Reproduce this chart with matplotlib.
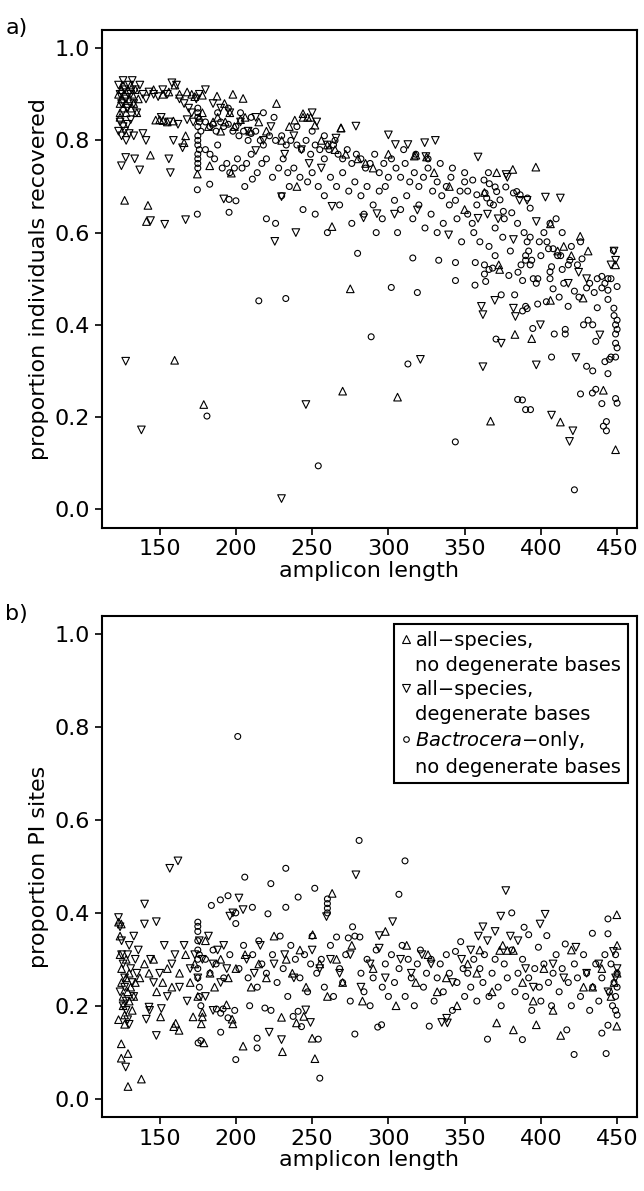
import numpy as np
import matplotlib
matplotlib.use("Agg")
import matplotlib.pyplot as plt
from matplotlib.lines import Line2D

# panel a: proportion of individuals recovered vs amplicon length
# (x, y) pairs
a_up = [
    (123, 0.90), (124, 0.88), (124, 0.86), (125, 0.91), (125, 0.89), (126, 0.87), (126, 0.92),
    (127, 0.90), (128, 0.88), (128, 0.86), (129, 0.91), (130, 0.89), (131, 0.87), (131, 0.92),
    (132, 0.90), (133, 0.88), (134, 0.91), (135, 0.86), (136, 0.89), (124, 0.85),
    (127, 0.67), (142.3, 0.659), (141.3, 0.624), (143.9, 0.768), (159.8, 0.323), (178.9, 0.227),
    (146, 0.91), (152, 0.90), (156, 0.905), (160, 0.92), (163, 0.90), (168, 0.905), (171, 0.90),
    (173, 0.895), (150, 0.845), (155, 0.84), (159, 0.842), (166, 0.795), (167, 0.81),
    (147.4, 0.844), (152.2, 0.843), (174.7, 0.727), (176, 0.85), (178, 0.86), (182, 0.83),
    (185, 0.84), (188, 0.85), (190, 0.82), (193, 0.84), (196, 0.86), (199, 0.83), (203, 0.845),
    (206, 0.85), (209, 0.82), (187.6, 0.896), (204.7, 0.891), (226.6, 0.88), (238.6, 0.844),
    (192.5, 0.88), (198, 0.90), (197, 0.729), (182.8, 0.745), (178, 0.898), (244, 0.85),
    (215, 0.84), (220, 0.82), (230, 0.80), (235, 0.83), (244, 0.858), (247, 0.85), (249, 0.85),
    (251.8, 0.833), (256, 0.80), (260, 0.79), (263, 0.613), (265, 0.78), (269, 0.827), (272, 0.77),
    (275, 0.478), (270, 0.256), (280, 0.76), (285, 0.75), (290, 0.74), (300, 0.77), (306, 0.243),
    (317, 0.766), (325, 0.764), (330, 0.73), (340, 0.70), (350, 0.65), (363, 0.687),
    (367, 0.191), (371, 0.73), (372.4, 0.53), (373, 0.52), (381.6, 0.737), (383, 0.379),
    (394, 0.37), (396.7, 0.742), (406.3, 0.619), (406.3, 0.453), (412.8, 0.189), (425.8, 0.592),
    (427.7, 0.458), (441, 0.258), (449, 0.53), (449, 0.129), (411, 0.56), (415, 0.57),
    (420, 0.55), (431, 0.56), (240, 0.70), (268.8, 0.827), (318, 0.768),
]
a_down = [
    (123, 0.92), (124, 0.90), (125, 0.88), (126, 0.93), (127, 0.91), (128, 0.89), (129, 0.87),
    (130, 0.92), (131, 0.90), (132, 0.93), (133, 0.88), (134, 0.91), (135, 0.86), (137, 0.92),
    (139, 0.90), (141, 0.89), (123, 0.82), (124, 0.84), (125, 0.81), (126, 0.83), (127, 0.82),
    (128, 0.80), (129, 0.835), (130, 0.815), (131, 0.845), (133, 0.81), (124.9, 0.745),
    (127.7, 0.763), (133.6, 0.76), (136.9, 0.736), (127.7, 0.321), (138, 0.172), (144, 0.626),
    (153.3, 0.618), (156, 0.76), (157, 0.73), (159, 0.80), (165, 0.784), (167, 0.628),
    (139, 0.815), (141, 0.80), (143, 0.905), (146, 0.90), (149, 0.895), (152, 0.91), (155, 0.90),
    (158, 0.925), (161, 0.92), (163, 0.89), (166, 0.88), (169, 0.87), (171, 0.86), (174, 0.89),
    (176, 0.90), (180, 0.91), (185, 0.88), (190, 0.87), (196, 0.86), (151, 0.85), (156, 0.84),
    (162, 0.835), (168, 0.845), (172, 0.84), (203, 0.84), (208, 0.82), (213, 0.85), (218, 0.80),
    (223, 0.83), (229.9, 0.023), (232, 0.77), (238, 0.81), (243, 0.78), (245.9, 0.227),
    (248, 0.75), (250, 0.86), (253, 0.84), (256, 0.74), (260, 0.79), (265.6, 0.805),
    (278.7, 0.831), (263, 0.657), (283.7, 0.632), (292.5, 0.641), (300, 0.812), (304, 0.64),
    (304.6, 0.791), (312.8, 0.791), (319, 0.649), (321, 0.325), (323.8, 0.795), (324.6, 0.765),
    (330.8, 0.80), (339.5, 0.595), (358.8, 0.764), (358.8, 0.631), (362, 0.309), (362, 0.422),
    (361, 0.44), (365, 0.64), (369.8, 0.453), (372, 0.63), (374, 0.36), (377.2, 0.726),
    (378, 0.72), (382, 0.585), (382, 0.436), (383.3, 0.418), (386, 0.67), (391, 0.67),
    (397, 0.624), (397, 0.313), (399.7, 0.40), (403, 0.677), (407, 0.204), (412.8, 0.675),
    (418, 0.49), (418.8, 0.147), (421, 0.17), (423, 0.329), (424.8, 0.514), (430, 0.50),
    (438.7, 0.378), (446, 0.53), (448, 0.56), (449, 0.54), (192, 0.673), (225.5, 0.581),
    (239.3, 0.60), (213, 0.778), (229.9, 0.678),
]
a_bact = [
    (175, 0.74), (175, 0.75), (175, 0.76), (175, 0.77), (175, 0.79), (175, 0.80), (175, 0.81),
    (175, 0.83), (175, 0.85), (175, 0.86), (175, 0.87), (176, 0.78), (177, 0.82), (176, 0.84),
    (174.7, 0.693), (174.7, 0.64), (181, 0.202),
    (180, 0.84), (183, 0.83), (185, 0.835), (187, 0.82), (190, 0.84), (192, 0.83), (195, 0.835),
    (198, 0.82), (200, 0.83), (202, 0.81), (205, 0.82), (208, 0.80), (210, 0.815), (213, 0.82),
    (216, 0.80), (218, 0.79), (222, 0.81), (226, 0.80), (230, 0.81), (233, 0.79), (182.8, 0.705),
    (180, 0.78), (183, 0.77), (186, 0.76), (188, 0.79), (191, 0.74), (194, 0.75), (196, 0.73),
    (199, 0.74), (201, 0.76), (204, 0.74), (207, 0.75), (210, 0.77), (214, 0.73), (217, 0.75),
    (220, 0.76), (224, 0.72), (228, 0.74), (231, 0.76), (234, 0.73), (195.5, 0.644),
    (195.5, 0.672), (200, 0.669), (205.8, 0.70), (210.8, 0.716), (215, 0.452), (232.7, 0.457),
    (220, 0.63), (226, 0.62), (230, 0.68), (235, 0.70), (188, 0.86), (195, 0.87), (203, 0.86),
    (210, 0.85), (218, 0.86), (225, 0.85),
    (236, 0.80), (240, 0.79), (243, 0.78), (246, 0.80), (249, 0.77), (252, 0.79), (255, 0.78),
    (258, 0.76), (261, 0.78), (264, 0.79), (267, 0.77), (270, 0.76), (273, 0.78), (276, 0.75),
    (279, 0.77), (282, 0.76), (285, 0.74), (288, 0.75), (291, 0.77), (294, 0.73), (297, 0.75),
    (300, 0.72), (238, 0.74), (242, 0.72), (247, 0.71), (250, 0.73), (254, 0.094), (254, 0.70),
    (258, 0.68), (262, 0.72), (266, 0.70), (270, 0.73), (274, 0.69), (278, 0.71), (282, 0.68),
    (286, 0.70), (290, 0.66), (294, 0.69), (298, 0.70), (244, 0.65), (252, 0.64), (260, 0.60),
    (268, 0.66), (276, 0.62), (279.8, 0.555), (288.7, 0.374), (284, 0.64), (292, 0.60),
    (296, 0.63), (301.9, 0.481), (240, 0.83), (250, 0.82), (258, 0.81), (265, 0.80),
    (302, 0.76), (305, 0.74), (308, 0.72), (311, 0.75), (314, 0.71), (317, 0.73), (320, 0.70),
    (323, 0.72), (326, 0.74), (329, 0.69), (332, 0.71), (335, 0.68), (338, 0.70), (341, 0.72),
    (344, 0.67), (347, 0.69), (350, 0.71), (304, 0.67), (308, 0.65), (312, 0.68), (316, 0.63),
    (319, 0.47), (312.8, 0.315), (320, 0.66), (324, 0.61), (328, 0.64), (332, 0.60), (336, 0.62),
    (340, 0.66), (343.9, 0.146), (344, 0.496), (344, 0.535), (333, 0.54), (316, 0.545),
    (348, 0.58), (345, 0.63), (306, 0.60), (310, 0.78), (318, 0.77), (326, 0.76), (334, 0.75),
    (342, 0.74), (350, 0.73),
    (352, 0.69), (355.3, 0.714), (356.8, 0.486), (357, 0.535), (358, 0.682), (362.7, 0.714),
    (363.4, 0.686), (364.5, 0.675), (365.6, 0.73), (366.2, 0.706), (366.7, 0.664), (368.9, 0.66),
    (370, 0.699), (371, 0.689), (373.2, 0.671), (375.4, 0.646), (377, 0.699), (380.9, 0.643),
    (382, 0.686), (384.2, 0.689), (386.4, 0.682), (391.2, 0.675), (393, 0.653), (363.8, 0.494),
    (363, 0.51), (363, 0.53), (368.4, 0.523), (370.6, 0.369), (374, 0.465), (379, 0.507),
    (382.8, 0.465), (384.7, 0.62), (385, 0.514), (388, 0.496), (388, 0.43), (390, 0.44),
    (391, 0.435), (387.9, 0.237), (393.2, 0.216), (384.8, 0.238), (390, 0.216), (387, 0.53),
    (390, 0.54), (393, 0.53), (394, 0.54), (394.7, 0.392), (395, 0.50), (398, 0.50),
    (397.9, 0.445), (397, 0.49), (389, 0.60), (391, 0.58), (392, 0.56), (390, 0.55), (393, 0.59),
    (352, 0.64), (356, 0.60), (360, 0.58), (366, 0.57), (370, 0.61), (375, 0.59), (380, 0.56),
    (358, 0.66), (366, 0.52), (370, 0.55), (376, 0.63), (355, 0.62), (399, 0.58),
    (400, 0.55), (403.6, 0.45), (406, 0.50), (406, 0.515), (407, 0.526), (407, 0.33),
    (408, 0.478), (408.8, 0.38), (405, 0.565), (408, 0.565), (402, 0.60), (406, 0.62),
    (410, 0.63), (411, 0.55), (413, 0.55), (414, 0.52), (415, 0.49), (416, 0.39), (416, 0.38),
    (417.9, 0.44), (418, 0.53), (419, 0.54), (422, 0.473), (422, 0.042), (424, 0.53), (425, 0.46),
    (427, 0.543), (428, 0.40), (430, 0.48), (431, 0.41), (432, 0.49), (433.8, 0.252), (434, 0.30),
    (434, 0.40), (435, 0.47), (436, 0.364), (437, 0.437), (437, 0.50), (440, 0.229), (440, 0.48),
    (441, 0.18), (442, 0.49), (442, 0.32), (443, 0.19), (443, 0.17), (444, 0.455), (444, 0.50),
    (444, 0.475), (444, 0.294), (445, 0.325), (446, 0.33), (447.9, 0.436), (447.6, 0.561),
    (448, 0.42), (449, 0.33), (449, 0.36), (449, 0.38), (449, 0.40), (450, 0.35), (450, 0.39),
    (450, 0.41), (450, 0.483), (450, 0.23), (426, 0.25), (436, 0.26), (449, 0.24), (412, 0.46),
    (420, 0.57), (414, 0.60), (426, 0.58), (404, 0.58), (430, 0.31), (446, 0.50), (440, 0.505),
]

# panel b: proportion of parsimony-informative sites vs amplicon length
b_up = [
    (123, 0.38), (124, 0.35), (124, 0.31), (125, 0.28), (125, 0.25), (126, 0.22), (126, 0.20),
    (127, 0.18), (127, 0.16), (128, 0.30), (128, 0.26), (129, 0.23), (130, 0.21), (130, 0.27),
    (131, 0.24), (132, 0.19), (133, 0.22), (134, 0.25), (124.8, 0.118), (124.8, 0.087),
    (129.2, 0.097), (129.2, 0.026), (138, 0.042), (124.8, 0.376), (123, 0.17),
    (137, 0.26), (140, 0.29), (143, 0.27), (146, 0.30), (148, 0.23), (150.6, 0.176), (152, 0.25),
    (155, 0.28), (158, 0.24), (159.2, 0.155), (160.5, 0.162), (162.7, 0.147), (163, 0.27),
    (167, 0.31), (170, 0.25), (171.9, 0.176), (173, 0.29), (175, 0.22), (177.3, 0.161),
    (178, 0.176), (178, 0.186), (179, 0.12), (180, 0.34), (183, 0.27), (186, 0.24), (190, 0.30),
    (193.8, 0.202), (195, 0.26), (197.5, 0.171), (198, 0.161), (200, 0.28),
    (204.7, 0.113), (206, 0.31), (210, 0.24), (215, 0.29), (220, 0.26), (225, 0.35),
    (229.9, 0.175), (230.5, 0.101), (233, 0.30), (237, 0.27), (239.7, 0.163), (242, 0.32),
    (244.5, 0.177), (246, 0.24), (250, 0.13), (251.8, 0.086), (250.3, 0.353), (255, 0.29),
    (260, 0.22), (263.1, 0.442), (266, 0.30), (270, 0.25), (276, 0.33), (283, 0.21), (290, 0.28),
    (298, 0.36), (305, 0.20), (312, 0.33), (318, 0.25), (326, 0.31), (332, 0.23), (338, 0.26),
    (345, 0.20), (352, 0.29), (358, 0.27), (360, 0.32), (368, 0.23), (371, 0.163), (375, 0.33),
    (373, 0.319), (378, 0.319), (382, 0.319), (382, 0.148), (388, 0.25), (397, 0.159),
    (395, 0.21), (402, 0.28), (408, 0.19), (413, 0.136), (420, 0.32), (428, 0.24), (434, 0.24),
    (440, 0.28), (446, 0.22), (449.8, 0.396), (450, 0.33), (450, 0.27), (449.8, 0.156),
    (448, 0.25),
]
b_down = [
    (123, 0.39), (124, 0.37), (125, 0.34), (125, 0.31), (126, 0.29), (127, 0.26), (127, 0.24),
    (128, 0.21), (128, 0.19), (129, 0.17), (130, 0.33), (131, 0.28), (132, 0.25), (133, 0.22),
    (134, 0.30), (135, 0.27), (124, 0.23), (126, 0.20), (129, 0.31), (127.7, 0.068), (130, 0.16),
    (133, 0.35), (136, 0.32),
    (140.1, 0.419), (140, 0.376), (141.2, 0.171), (143, 0.197), (143.4, 0.19), (144, 0.30),
    (147.8, 0.381), (147.8, 0.136), (150, 0.27), (151.1, 0.194), (153, 0.33), (156.6, 0.496),
    (158, 0.29), (162, 0.512), (160, 0.31), (163, 0.24), (166, 0.33), (170, 0.28), (173, 0.31),
    (175, 0.26), (176, 0.34), (178, 0.30), (180, 0.22), (182, 0.35), (185, 0.29), (188, 0.32),
    (190, 0.25), (192, 0.33), (194, 0.28), (196, 0.393), (198, 0.40), (202, 0.432),
    (204.7, 0.407), (168, 0.21), (185, 0.19), (155, 0.22), (146, 0.25),
    (207, 0.30), (212, 0.27), (216, 0.33), (221.8, 0.143), (225, 0.29), (229.9, 0.127),
    (232, 0.31), (238, 0.26), (245.8, 0.191), (248.9, 0.164), (250, 0.32), (255, 0.28),
    (259.4, 0.392), (262, 0.30), (268, 0.27), (275, 0.31), (278.7, 0.482), (282, 0.24),
    (288, 0.29), (294, 0.351), (294, 0.324), (298, 0.26),
    (302.8, 0.381), (308, 0.30), (315, 0.27), (322, 0.31), (328, 0.29), (335, 0.164),
    (338.7, 0.163), (338.2, 0.173), (342, 0.25), (348, 0.30), (354, 0.32), (359, 0.35),
    (362, 0.37), (365, 0.34), (370, 0.36), (373.7, 0.393), (377, 0.448), (380, 0.35), (385, 0.34),
    (390, 0.28), (395, 0.24), (399.5, 0.376), (402.8, 0.397), (408, 0.29), (415, 0.26),
    (423, 0.326), (430, 0.27), (438, 0.29), (444, 0.23), (447.6, 0.317), (450, 0.28), (449, 0.26),
]
b_bact = [
    (175, 0.38), (175, 0.36), (175, 0.34), (175, 0.32), (175, 0.30), (175, 0.28), (175, 0.26),
    (176, 0.24), (176, 0.22), (177, 0.20), (176, 0.31), (175, 0.371), (175.2, 0.12), (177, 0.125),
    (180, 0.30), (183, 0.27), (185, 0.32), (187, 0.29), (187.2, 0.193), (183.9, 0.416),
    (189.8, 0.428), (190, 0.184), (190, 0.143), (191.6, 0.193), (192, 0.26), (194.8, 0.437),
    (194.8, 0.174), (196, 0.31), (199.2, 0.19), (199.9, 0.40), (199.9, 0.377), (199.9, 0.084),
    (201.2, 0.78), (202, 0.28), (205, 0.33), (205.8, 0.477), (208, 0.26), (209, 0.20),
    (210.8, 0.412), (211, 0.31), (213.9, 0.13), (213.9, 0.109), (214, 0.24), (215, 0.34),
    (217, 0.29), (219, 0.195), (220, 0.27), (221, 0.398), (222.9, 0.463), (223, 0.19), (224, 0.31),
    (227, 0.25), (229, 0.35), (231, 0.28), (232.7, 0.496), (232.7, 0.412), (234, 0.22), (236, 0.33),
    (237.5, 0.177), (239, 0.30), (240.8, 0.434), (240.8, 0.188), (242, 0.26), (243, 0.155),
    (245, 0.31), (247, 0.23), (249, 0.29), (250, 0.35),
    (251.7, 0.453), (254, 0.128), (255, 0.044), (253, 0.27), (256, 0.30), (258, 0.24), (260, 0.43),
    (260, 0.42), (260, 0.41), (260, 0.40), (262, 0.33), (264, 0.22), (266, 0.348), (268, 0.28),
    (270, 0.25), (272, 0.31), (273.7, 0.346), (275, 0.21), (276.5, 0.37), (278, 0.35),
    (278, 0.139), (280.8, 0.556), (281.3, 0.348), (282, 0.27), (284, 0.23), (286, 0.30),
    (288, 0.20), (290, 0.26), (292, 0.32), (293, 0.154), (295.5, 0.159), (296, 0.24), (298, 0.29),
    (300, 0.22),
    (302, 0.31), (304, 0.25), (306.9, 0.44), (307, 0.28), (309, 0.33), (310.9, 0.512), (311, 0.22),
    (313, 0.30), (315, 0.26), (317, 0.20), (319, 0.29), (321, 0.32), (323, 0.24), (325, 0.27),
    (326.8, 0.156), (328, 0.30), (330, 0.21), (332, 0.26), (334, 0.29), (336, 0.23), (338, 0.31),
    (340, 0.27), (342, 0.19), (344, 0.317), (345, 0.25), (347.4, 0.338), (349, 0.28), (350, 0.22),
    (352, 0.27), (354, 0.24), (356, 0.30), (358, 0.21), (360, 0.28), (362, 0.25), (363, 0.31),
    (365, 0.128), (366, 0.22), (368, 0.27), (370, 0.30), (372, 0.24), (374, 0.20), (376, 0.29),
    (378, 0.26), (380.9, 0.40), (381, 0.32), (383, 0.23), (385, 0.27), (387.9, 0.127), (388, 0.30),
    (389, 0.369), (390, 0.22), (392, 0.353), (392, 0.26), (394, 0.19), (396, 0.28), (398.4, 0.326),
    (399, 0.24), (400, 0.21),
    (402, 0.29), (403.9, 0.351), (405, 0.25), (407, 0.20), (408, 0.27), (410, 0.31), (412, 0.23),
    (414, 0.28), (416, 0.333), (417, 0.148), (418, 0.25), (420, 0.20), (421.8, 0.095), (422, 0.29),
    (424, 0.26), (426, 0.22), (428, 0.31), (430, 0.27), (432, 0.19), (433.8, 0.356), (434, 0.24),
    (436, 0.29), (438, 0.21), (440, 0.141), (440, 0.26), (442, 0.31), (442.8, 0.097), (444, 0.387),
    (444, 0.355), (444, 0.158), (445, 0.23), (446, 0.29), (447, 0.20), (448, 0.25), (449, 0.31),
    (449, 0.22), (450, 0.27), (450, 0.18), (450, 0.24), (449, 0.19),
]

# legend text: first line sits beside the marker, second line below it
label_first = ["all\u2212species,", "all\u2212species,", "$\\it{Bactrocera}$\u2212only,"]
label_second = ["no degenerate bases", "degenerate bases", "no degenerate bases"]
markers = ["^", "v", "o"]
sizes = [30, 30, 18]
xticks = [150, 200, 250, 300, 350, 400, 450]
yticks = [0.0, 0.2, 0.4, 0.6, 0.8, 1.0]

plt.rcParams["font.family"] = ["DejaVu Sans"]
plt.rcParams["font.size"] = 16

fig = plt.figure(figsize=(6.44, 11.91), dpi=100)
ax_a = fig.add_axes([0.158, 0.557, 0.831, 0.418])
ax_b = fig.add_axes([0.158, 0.062, 0.831, 0.421])

panels = [
    (ax_a, [a_up, a_down, a_bact], "proportion individuals recovered", "a)", 0.985),
    (ax_b, [b_up, b_down, b_bact], "proportion PI sites", "b)", 0.493),
]

for ax, series, ylab, tag, ty in panels:
    for data, m, s in zip(series, markers, sizes):
        pts = np.array(data)
        ax.scatter(pts[:, 0], pts[:, 1], marker=m, s=s, facecolors="none",
                   edgecolors="black", linewidths=0.8)
    ax.set_xlim(112, 463)
    ax.set_ylim(-0.04, 1.04)
    ax.set_xticks(xticks)
    ax.set_yticks(yticks)
    ax.set_yticklabels([f"{v:.1f}" for v in yticks])
    ax.tick_params(labelsize=16, length=5, width=1.2)
    for sp in ax.spines.values():
        sp.set_linewidth(1.5)
    ax.set_xlabel("amplicon length", fontsize=16, labelpad=1)
    ax.set_ylabel(ylab, fontsize=16)
    fig.text(0.008, ty, tag, fontsize=16, va="top", ha="left")

handles, texts = [], []
for m, s, l1, l2 in zip(markers, sizes, label_first, label_second):
    handles.append(Line2D([], [], linestyle="none", marker=m, markersize=np.sqrt(s) * 0.95,
                          markerfacecolor="none", markeredgecolor="black", markeredgewidth=0.8))
    texts.append(l1)
    handles.append(Line2D([], [], linestyle="none", marker=None))
    texts.append(l2)

leg = ax_b.legend(handles, texts, loc="upper right", fontsize=14, handlelength=0.55,
                  handletextpad=0.2, borderpad=0.35, labelspacing=0.28, fancybox=False,
                  framealpha=1, edgecolor="black", borderaxespad=0.45)
leg.get_frame().set_linewidth(1.5)

fig.savefig("out.png", dpi=100)
